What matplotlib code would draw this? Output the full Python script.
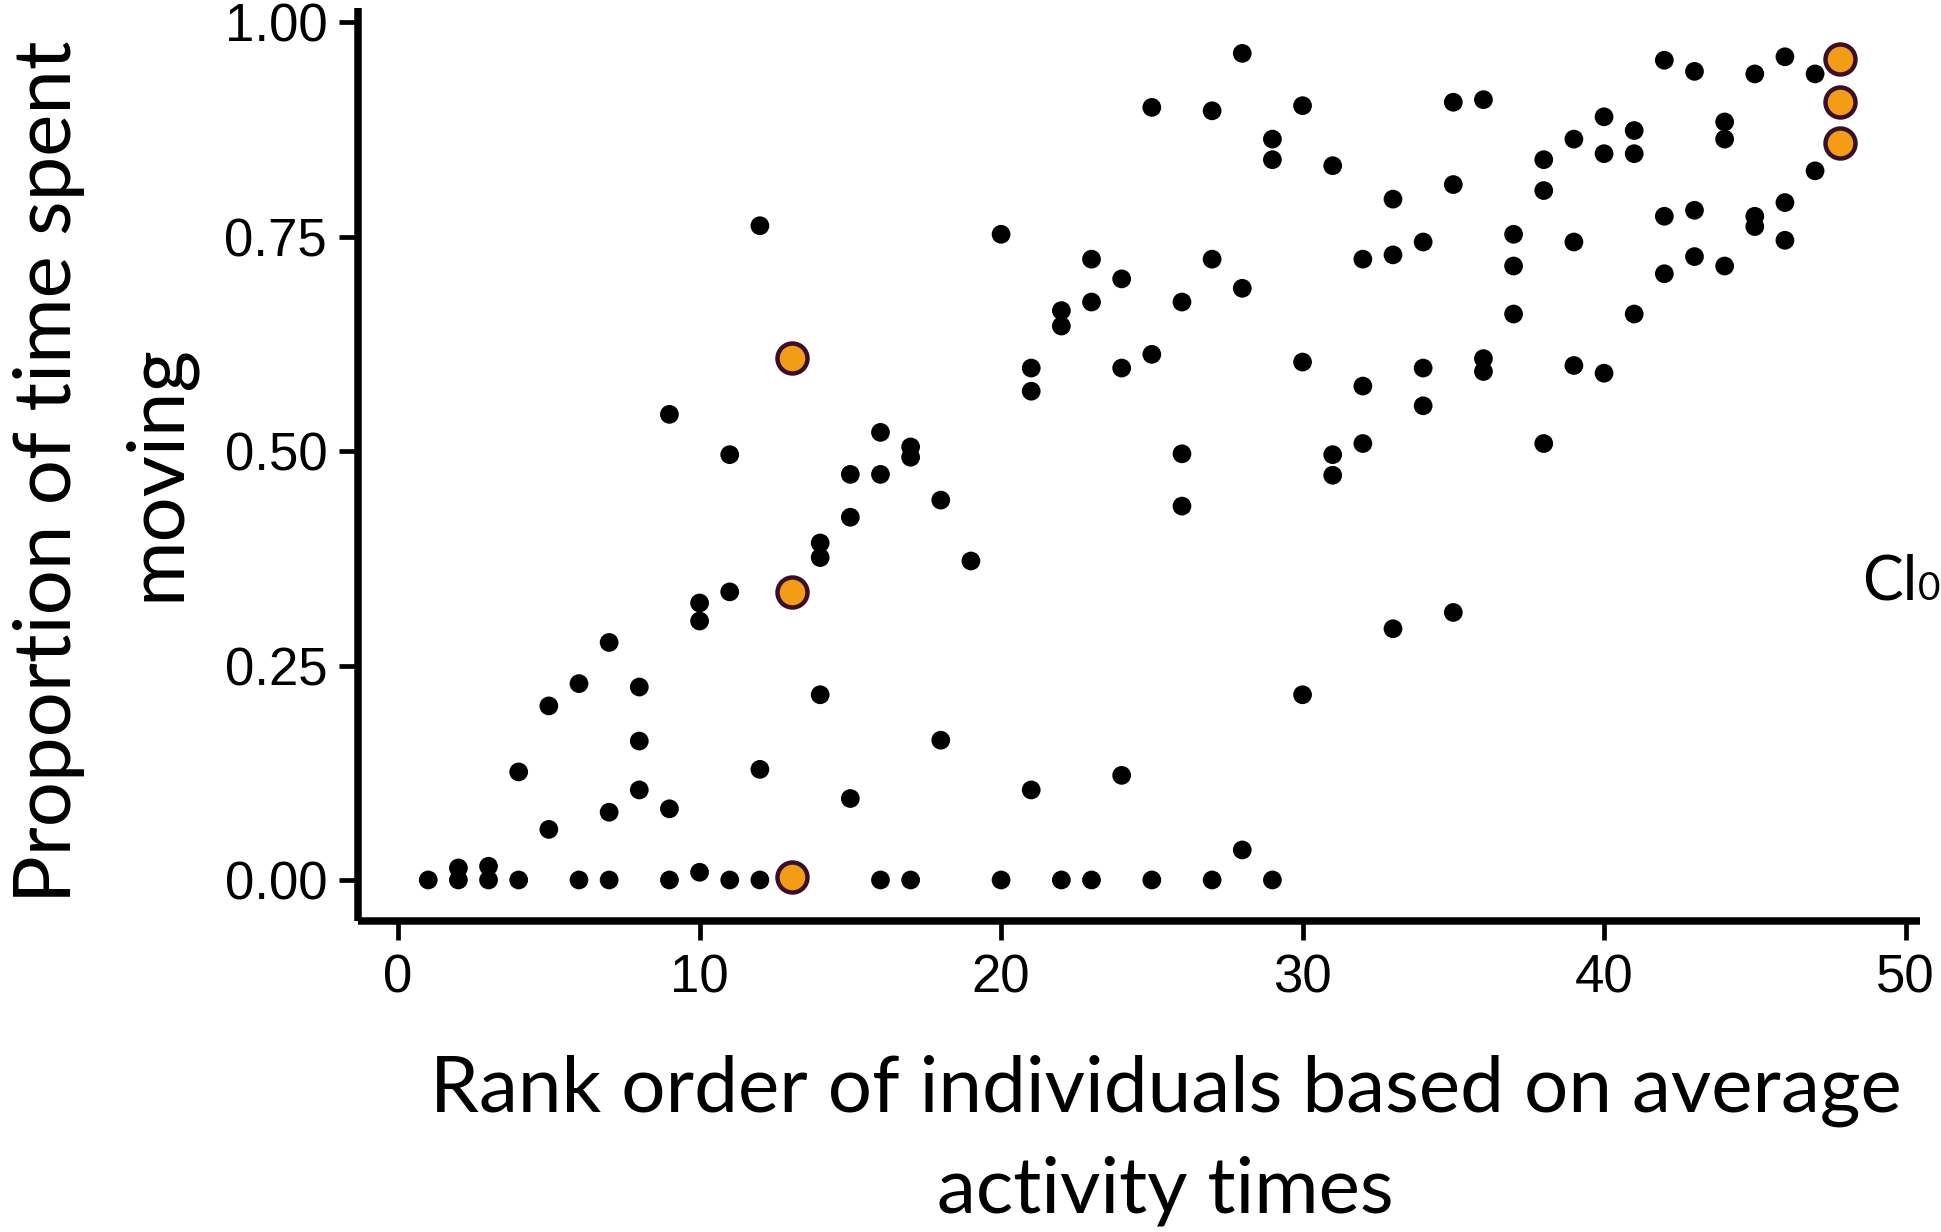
import matplotlib
matplotlib.use("Agg")
import matplotlib.pyplot as plt

# ---------------- data ----------------
black_rank = [1,
              2, 2,
              3, 3,
              4, 4,
              5, 5,
              6, 6,
              7, 7, 7,
              8, 8, 8,
              9, 9, 9,
              10, 10, 10,
              11, 11, 11,
              12, 12, 12,
              14, 14, 14,
              15, 15, 15,
              16, 16, 16,
              17, 17, 17,
              18, 18,
              19,
              20, 20,
              21, 21, 21,
              22, 22, 22,
              23, 23, 23,
              24, 24, 24,
              25, 25, 25,
              26, 26, 26,
              27, 27, 27,
              28, 28, 28,
              29, 29, 29,
              30, 30, 30,
              31, 31, 31,
              32, 32, 32,
              33, 33, 33,
              34, 34, 34,
              35, 35, 35,
              36, 36, 36,
              37, 37, 37,
              38, 38, 38,
              39, 39, 39,
              40, 40, 40,
              41, 41, 41,
              42, 42, 42,
              43, 43, 43,
              44, 44, 44,
              45, 45, 45,
              46, 46, 46,
              47, 47]
black_prop = [0.000,
              0.000, 0.014,
              0.000, 0.016,
              0.000, 0.126,
              0.059, 0.203,
              0.000, 0.229,
              0.000, 0.079, 0.277,
              0.105, 0.162, 0.225,
              0.000, 0.083, 0.543,
              0.009, 0.302, 0.323,
              0.000, 0.336, 0.496,
              0.000, 0.129, 0.763,
              0.216, 0.376, 0.393,
              0.095, 0.423, 0.473,
              0.000, 0.473, 0.522,
              0.000, 0.493, 0.505,
              0.163, 0.443,
              0.372,
              0.000, 0.753,
              0.105, 0.570, 0.597,
              0.000, 0.646, 0.664,
              0.000, 0.674, 0.724,
              0.122, 0.597, 0.701,
              0.000, 0.613, 0.901,
              0.436, 0.497, 0.674,
              0.000, 0.724, 0.897,
              0.035, 0.690, 0.964,
              0.000, 0.840, 0.864,
              0.216, 0.604, 0.903,
              0.472, 0.496, 0.833,
              0.509, 0.576, 0.724,
              0.293, 0.729, 0.794,
              0.553, 0.597, 0.744,
              0.312, 0.811, 0.907,
              0.593, 0.608, 0.910,
              0.660, 0.716, 0.753,
              0.509, 0.804, 0.840,
              0.600, 0.744, 0.864,
              0.591, 0.847, 0.890,
              0.660, 0.847, 0.874,
              0.707, 0.774, 0.956,
              0.727, 0.781, 0.943,
              0.716, 0.864, 0.884,
              0.762, 0.774, 0.940,
              0.746, 0.790, 0.960,
              0.827, 0.940]

orange_rank = [13.07, 13.07, 13.07, 47.83, 47.83, 47.83]
orange_prop = [0.004, 0.336, 0.609, 0.860, 0.907, 0.958]

x_ticks = [0, 10, 20, 30, 40, 50]
y_ticks = [0.00, 0.25, 0.50, 0.75, 1.00]
y_tick_labels = ["0.00", "0.25", "0.50", "0.75", "1.00"]

x_title = ["Rank order of individuals based on average", "activity times"]
y_title = ["Proportion of time spent", "moving"]
legend_title_visible = ["Cl", "0"]

# ---------------- figure ----------------
W, H = 1941, 1232
fig = plt.figure(figsize=(W / 100, H / 100), dpi=100)
fig.patch.set_facecolor("white")

ax_left, ax_right = 357.7, 1920.0
ax_top, ax_bottom = 8.0, 921.3
ax = fig.add_axes([ax_left / W, 1 - ax_bottom / H,
                   (ax_right - ax_left) / W, (ax_bottom - ax_top) / H])

ax.scatter(black_rank, black_prop, s=182, color="black", edgecolors="none",
           zorder=3, clip_on=False)
ax.scatter(orange_rank, orange_prop, s=467, facecolor="#F39C16",
           edgecolors="#3A0F2C", linewidths=3.2, zorder=4, clip_on=False)

ax.set_xlim(-1.34, 50.48)
ax.set_ylim(-0.0482, 1.0169)

for side in ["top", "right"]:
    ax.spines[side].set_visible(False)
for side in ["left", "bottom"]:
    ax.spines[side].set_linewidth(5.4)
    ax.spines[side].set_color("black")
    ax.spines[side].set_capstyle("butt")

ax.set_xticks(x_ticks)
ax.set_xticklabels([str(v) for v in x_ticks])
ax.set_yticks(y_ticks)
ax.set_yticklabels(y_tick_labels)

tick_font = "Liberation Sans"
ax.tick_params(axis="both", direction="out", length=13.5, width=3.4,
               color="black", labelsize=38, labelcolor="black")
ax.tick_params(axis="x", pad=10.0)
ax.tick_params(axis="y", pad=8.5)
for lab in ax.get_xticklabels() + ax.get_yticklabels():
    lab.set_fontfamily(tick_font)

title_font = "Lato"

# axis titles, two lines each
xt1 = fig.text(1166 / W, 1 - 1112 / H, x_title[0], ha="center", va="baseline",
               fontsize=54, family=title_font, color="black")
xt2 = fig.text(1165 / W, 1 - 1213 / H, x_title[1], ha="center", va="baseline",
               fontsize=54, family=title_font, color="black")
yt1 = fig.text(71 / W, 1 - 472 / H, y_title[0], ha="center", va="baseline",
               rotation=90, rotation_mode="anchor",
               fontsize=54, family=title_font, color="black")
yt2 = fig.text(179 / W, 1 - 472 / H, y_title[1], ha="center", va="baseline",
               rotation=90, rotation_mode="anchor",
               fontsize=54, family=title_font, color="black")

# fit the title font sizes to the reference lengths of the first lines
fig.canvas.draw()
renderer = fig.canvas.get_renderer()
wx = xt1.get_window_extent(renderer).width
fsx = 54 * 1473.0 / wx
xt1.set_fontsize(fsx)
xt2.set_fontsize(fsx)
wy = yt1.get_window_extent(renderer).height
fsy = 54 * 862.0 / wy
yt1.set_fontsize(fsy)
yt2.set_fontsize(fsy)

# legend title, cut by the right edge of the picture
fig.text(1862 / W, 1 - 600 / H, legend_title_visible[0], ha="left",
         va="baseline", fontsize=44, family=title_font, color="black")
fig.text(1940 / W, 1 - 600 / H, legend_title_visible[1], ha="right",
         va="baseline", fontsize=28, family=title_font, color="black")

fig.savefig("out.png", dpi=100, facecolor="white")
